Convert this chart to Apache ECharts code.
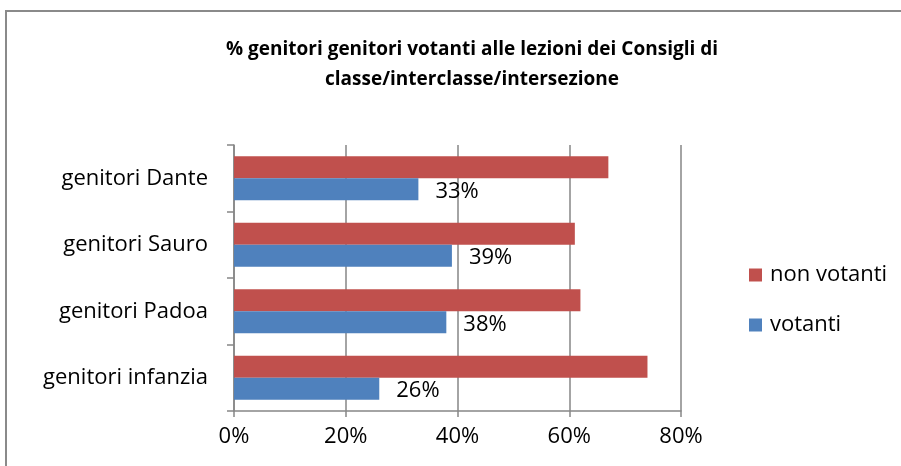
<!DOCTYPE html>
<html>
<head>
<meta charset="utf-8">
<script src="https://cdn.jsdelivr.net/npm/echarts@6/dist/echarts.min.js"></script>
<style>html,body{margin:0;padding:0;background:#fff;}#c{width:901px;height:466px;}</style>
</head>
<body>
<div id="c"></div>
<script>
const titleText = '% genitori genitori votanti alle lezioni dei Consigli di\nclasse/interclasse/intersezione';
const categories = ['genitori infanzia', 'genitori Padoa', 'genitori Sauro', 'genitori Dante'];
const votanti = [26, 38, 39, 33];
const nonVotanti = [74, 62, 61, 67];
const xTicks = [0, 20, 40, 60, 80];

const FONT = '"Open Sans", sans-serif';
const chart = echarts.init(document.getElementById('c'));
chart.setOption({
  animation: false,
  backgroundColor: '#fff',
  graphic: [{
    type: 'rect', shape: {x: 6, y: 11, width: 1000, height: 1000},
    style: {fill: 'none', stroke: '#8a8a8a', lineWidth: 2}, silent: true, z: -1
  }],
  title: {
    text: titleText, left: 467, top: 30, textAlign: 'center',
    textStyle: {fontFamily: FONT, fontWeight: 'bold', fontSize: 19, lineHeight: 30, color: '#000'}
  },
  legend: {
    orient: 'vertical', left: 744, top: 257,
    data: ['non votanti', 'votanti'],
    icon: 'rect', itemWidth: 13, itemHeight: 13, itemGap: 24,
    textStyle: {fontFamily: FONT, fontSize: 22, lineHeight: 26, color: '#000', padding: [0, 0, 0, 3]}
  },
  grid: {left: 234, right: 220, top: 145, bottom: 55},
  xAxis: {
    type: 'value', min: 0, max: 80, interval: 20,
    axisLine: {show: true, lineStyle: {color: '#868686', width: 1.5}},
    axisTick: {show: true, length: 6, lineStyle: {color: '#868686', width: 1.5}},
    splitLine: {show: true, lineStyle: {color: '#868686', width: 1.5}},
    axisLabel: {formatter: v => v + '%', margin: 15, fontFamily: FONT, fontSize: 22, color: '#000'}
  },
  yAxis: {
    type: 'category', data: categories,
    axisLine: {show: true, lineStyle: {color: '#868686', width: 1.5}},
    axisTick: {show: true, length: 7, lineStyle: {color: '#868686', width: 1.5}},
    axisLabel: {margin: 26, fontFamily: FONT, fontSize: 22, color: '#000'}
  },
  series: [
    {
      name: 'non votanti', type: 'bar', data: nonVotanti, barWidth: 22, barGap: '0%',
      itemStyle: {color: '#C0504D'}
    },
    {
      name: 'votanti', type: 'bar', data: votanti, barWidth: 22, barGap: '0%',
      itemStyle: {color: '#4F81BD'},
      label: {show: true, position: 'right', distance: 17, offset: [0, 2], formatter: '{c}%',
        fontFamily: FONT, fontSize: 22, color: '#000'}
    }
  ]
});
</script>
</body>
</html>
